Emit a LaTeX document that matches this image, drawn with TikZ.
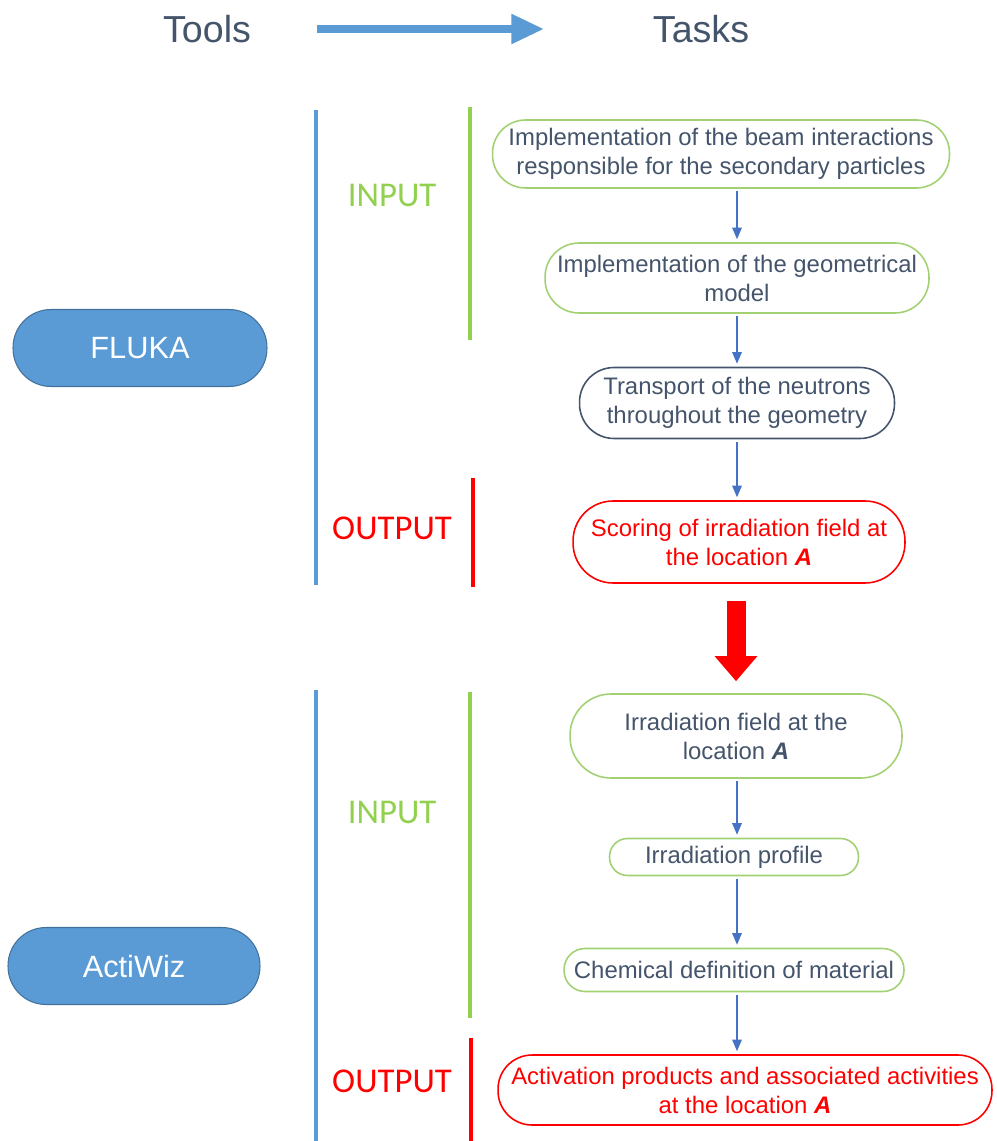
\documentclass[tikz,border=0pt]{standalone}
\usepackage{fontspec}
\setmainfont{Liberation Sans}
\newfontfamily\calfont{Carlito}
\usetikzlibrary{arrows.meta,calc,positioning}
\definecolor{toolblue}{HTML}{5B9BD5}
\definecolor{tooledge}{HTML}{41719C}
\definecolor{arrblue}{HTML}{4472C4}
\definecolor{ingreen}{HTML}{92D050}
\definecolor{boxgreen}{HTML}{A2D173}
\definecolor{outred}{HTML}{FF0000}
\definecolor{darktext}{HTML}{44546A}

\begin{document}
\begin{tikzpicture}[x=0.02cm,y=-0.02cm]

\tikzset{task/.style={draw=#1,line width=0.9pt,align=center,inner sep=0pt,text=darktext,font=\fontsize{13.6}{16.5}\selectfont},
tool/.style={fill=toolblue,draw=tooledge,line width=0.6pt,text=white,inner sep=0pt,minimum width=5.08cm,minimum height=1.54cm,rounded corners=0.76cm,font=\fontsize{17.5}{20}\selectfont},
header/.style={text=darktext,font=\fontsize{21.4}{26}\selectfont},
phase/.style={font=\calfont\fontsize{19.8}{24}\selectfont},
bar/.style={line width=2.8pt},
smallarrow/.style={arrblue,line width=0.7pt,-{Triangle[width=1.9mm,length=2.3mm]},shorten <=0.05cm,shorten >=0.06cm}}

\useasboundingbox (0,0) rectangle (996,1141);

% Header
\node[header] (tools) at (207,29) {Tools};
\node[header] (tasks) at (701,29) {Tasks};
\draw[toolblue,line width=0.17cm,-{Triangle[width=0.56cm,length=0.66cm]}] ([xshift=1.2cm]tools.east) -- ([xshift=-2.05cm]tasks.west);

% Tools
\node[tool] (fluka) at (140,348) {FLUKA};
\node[tool,minimum width=5.04cm] (actiwiz) at (134,966) {ActiWiz};

% Brackets
\draw[bar,toolblue] (316,110) -- (316,585);
\draw[bar,ingreen] (470,107) -- (470,340);
\draw[bar,outred] (473,478) -- (473,587);
\draw[bar,toolblue] (316,690) -- (316,1141);
\draw[bar,ingreen] (470,692) -- (470,1018);
\draw[bar,outred] (471,1038) -- (471,1141);

\node[phase,text=ingreen] (in1) at (392,195) {INPUT};
\node[phase,text=outred] (out1) at (392,528) {OUTPUT};
\node[phase,text=ingreen] (in2) at (392,812) {INPUT};
\node[phase,text=outred] (out2) at (392,1081) {OUTPUT};

% FLUKA tasks
\node[task=boxgreen,minimum width=9.14cm,minimum height=1.36cm,rounded corners=0.66cm] (b1) at (721,154) {Implementation of the beam interactions\\responsible for the secondary particles};
\node[task=boxgreen,minimum width=7.68cm,minimum height=1.40cm,rounded corners=0.68cm] (b2) at (737,278) {Implementation of the geometrical\\model};
\node[task=darktext,minimum width=6.30cm,minimum height=1.42cm,rounded corners=0.69cm] (b3) at (737,403) {Transport of the neutrons\\throughout the geometry};
\node[task=outred,text=outred,minimum width=6.64cm,minimum height=1.64cm,rounded corners=0.8cm] (b4) at (739,542) {Scoring of irradiation field at\\the location \textbf{\textit{A}}};

% ActiWiz tasks
\node[task=boxgreen,minimum width=6.64cm,minimum height=1.68cm,rounded corners=0.82cm] (b5) at (736,736) {Irradiation field at the\\location \textbf{\textit{A}}};
\node[task=boxgreen,minimum width=4.98cm,minimum height=0.74cm,rounded corners=0.36cm] (b6) at (734,857) {Irradiation profile};
\node[task=boxgreen,minimum width=6.80cm,minimum height=0.86cm,rounded corners=0.42cm] (b7) at (734,970) {Chemical definition of material};
\node[task=outred,text=outred,minimum width=9.88cm,minimum height=1.40cm,rounded corners=0.68cm] (b8) at (745,1090) {Activation products and associated activities\\at the location \textbf{\textit{A}}};

% Arrows
\foreach \a/\b in {b1/b2,b2/b3,b3/b4,b5/b6,b6/b7,b7/b8} \draw[smallarrow] (\a.south -| b2.north) -- (\b.north -| b2.north);
\draw[outred,line width=0.38cm,-{Triangle[width=0.82cm,length=0.5cm]},shorten <=0.34cm,shorten >=0.24cm] (b5.north |- b4.south) -- (b5.north);

\end{tikzpicture}
\end{document}
